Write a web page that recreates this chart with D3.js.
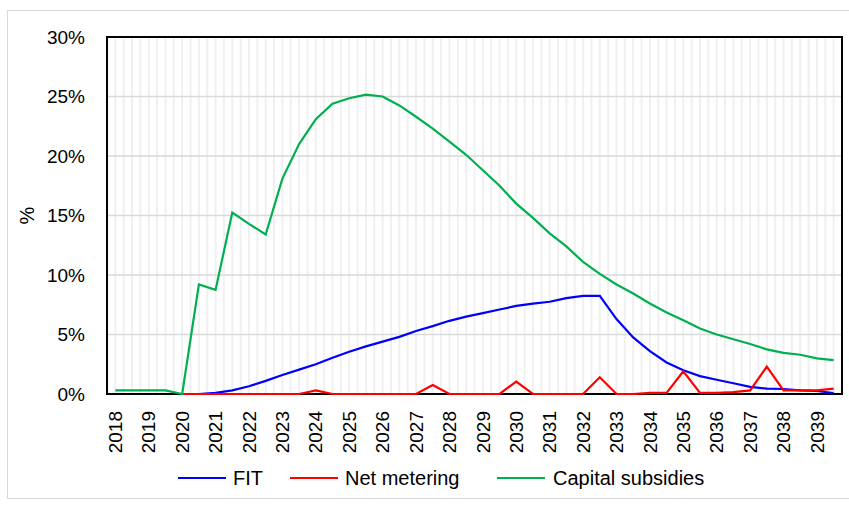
<!DOCTYPE html>
<html>
<head>
<meta charset="utf-8">
<script src="https://cdn.jsdelivr.net/npm/d3@7"></script>
<style>
  html, body { margin: 0; padding: 0; background: #ffffff; }
  svg { display: block; }
  text { font-family: "Liberation Sans", Arial, sans-serif; fill: #000; }
</style>
</head>
<body>
<svg id="chart" width="849" height="505"></svg>
<script>
// ---------------- DATA ----------------
const categories = [
  "2018H1","2018H2","2019H1","2019H2","2020H1","2020H2","2021H1","2021H2",
  "2022H1","2022H2","2023H1","2023H2","2024H1","2024H2","2025H1","2025H2",
  "2026H1","2026H2","2027H1","2027H2","2028H1","2028H2","2029H1","2029H2",
  "2030H1","2030H2","2031H1","2031H2","2032H1","2032H2","2033H1","2033H2",
  "2034H1","2034H2","2035H1","2035H2","2036H1","2036H2","2037H1","2037H2",
  "2038H1","2038H2","2039H1","2039H2"
];
const yearLabels = ["2018","2019","2020","2021","2022","2023","2024","2025","2026","2027","2028",
  "2029","2030","2031","2032","2033","2034","2035","2036","2037","2038","2039"];
const yearCategories = ["2018H1","2019H1","2020H1","2021H1","2022H1","2023H1","2024H1","2025H1",
  "2026H1","2027H1","2028H1","2029H1","2030H1","2031H1","2032H1","2033H1","2034H1","2035H1",
  "2036H1","2037H1","2038H1","2039H1"];

const fit = [null,null,null,null,0,0,0.1,0.3,0.65,1.1,1.6,2.05,2.5,3.05,3.55,4.0,4.4,4.8,5.3,5.7,
  6.15,6.5,6.8,7.1,7.4,7.6,7.75,8.05,8.25,8.25,6.3,4.75,3.6,2.65,2.0,1.5,1.2,0.9,0.6,0.45,0.42,0.3,0.25,0.07];
const netMetering = [null,null,null,null,0,0,0,0,0,0,0,0,0.3,0,0,0,0,0,0,0.75,
  0,0,0,0,1.05,0,0,0,0,1.4,0,0,0.1,0.1,1.9,0.1,0.1,0.15,0.3,2.3,0.3,0.3,0.3,0.45];
const capitalSubsidies = [0.3,0.3,0.3,0.3,0,9.2,8.75,15.25,14.3,13.4,18.1,21.0,23.1,24.4,24.85,25.15,25.0,24.25,23.3,22.3,
  21.2,20.1,18.8,17.5,16.0,14.8,13.5,12.4,11.1,10.1,9.2,8.45,7.6,6.85,6.2,5.5,5.0,4.6,4.2,3.75,3.45,3.3,3.0,2.85];

const yTicks = [0,5,10,15,20,25,30];
const seriesNames = ["FIT","Net metering","Capital subsidies"];
const seriesColors = ["#0000ff","#ff0000","#00b050"];
const seriesValues = [fit, netMetering, capitalSubsidies];

// ---------------- LAYOUT ----------------
const svg = d3.select("#chart");
const L = 107, R = 842, T = 37, B = 394;

const x = d3.scaleBand().domain(categories).range([L, R]).paddingInner(0).paddingOuter(0);
const bw = x.bandwidth();
const cx = c => x(c) + bw / 2;
const y = d3.scaleLinear().domain([0, 30]).range([B, T]);

// chart border
svg.append("rect").attr("x", 7.5).attr("y", 10.5).attr("width", 900).attr("height", 488)
  .attr("fill", "none").attr("stroke", "#d9d9d9").attr("stroke-width", 1);

// vertical light gridlines (category boundaries and centers)
const vg = svg.append("g");
categories.forEach((c, i) => {
  const xs = i === 0 ? [cx(c)] : [x(c), cx(c)];
  xs.forEach(xx => {
    vg.append("line").attr("x1", xx).attr("x2", xx).attr("y1", T).attr("y2", B)
      .attr("stroke", "#f0f0f0").attr("stroke-width", 2);
  });
});

// horizontal gridlines
svg.append("g").selectAll("line").data(yTicks.filter(t => t > 0 && t < 30)).join("line")
  .attr("x1", L).attr("x2", R).attr("y1", d => y(d)).attr("y2", d => y(d))
  .attr("stroke", "#d9d9d9").attr("stroke-width", 1.5);

// y axis labels
const yAxis = d3.axisLeft(y).tickValues(yTicks).tickFormat(d => d + "%").tickSize(0).tickPadding(22);
const yg = svg.append("g").attr("transform", `translate(${L},0)`).call(yAxis);
yg.select(".domain").remove();
yg.selectAll("text").attr("font-size", 19).style("font-family", "Liberation Sans, Arial, sans-serif").attr("fill", "#000");

// x axis labels
const xAxis = d3.axisBottom(x).tickValues(yearCategories)
  .tickFormat(c => yearLabels[yearCategories.indexOf(c)]).tickSize(0);
const xg = svg.append("g").attr("transform", `translate(0,${B})`).call(xAxis);
xg.select(".domain").remove();
xg.selectAll(".tick text")
  .attr("font-size", 19).style("font-family", "Liberation Sans, Arial, sans-serif").attr("fill", "#000")
  .attr("text-anchor", "end")
  .attr("transform", "translate(0,17) rotate(-90)")
  .attr("x", 0).attr("y", 0).attr("dy", "0.35em");

// plot border
svg.append("rect").attr("x", L).attr("y", T).attr("width", R - L).attr("height", B - T)
  .attr("fill", "none").attr("stroke", "#000").attr("stroke-width", 2);

// series lines
const line = d3.line()
  .defined(d => d.v !== null)
  .x(d => cx(d.c))
  .y(d => y(d.v));
seriesValues.forEach((vals, k) => {
  const data = categories.map((c, i) => ({ c, v: vals[i] }));
  svg.append("path").datum(data).attr("d", line)
    .attr("fill", "none").attr("stroke", seriesColors[k]).attr("stroke-width", 2.2)
    .attr("stroke-linejoin", "miter");
});

// y title
svg.append("text").attr("transform", `translate(34,${(T + B) / 2}) rotate(-90)`)
  .attr("text-anchor", "middle").attr("font-size", 20).text("%");

// legend
const legendPos = [
  { lx: 178, tx: 233 },
  { lx: 290, tx: 345 },
  { lx: 497, tx: 553 }
];
const ly = 478;
seriesNames.forEach((name, k) => {
  const p = legendPos[k];
  svg.append("line").attr("x1", p.lx).attr("x2", p.lx + 48).attr("y1", ly).attr("y2", ly)
    .attr("stroke", seriesColors[k]).attr("stroke-width", 2.2);
  svg.append("text").attr("x", p.tx).attr("y", ly).attr("dy", "0.35em")
    .attr("font-size", 20).text(name);
});
</script>
</body>
</html>
